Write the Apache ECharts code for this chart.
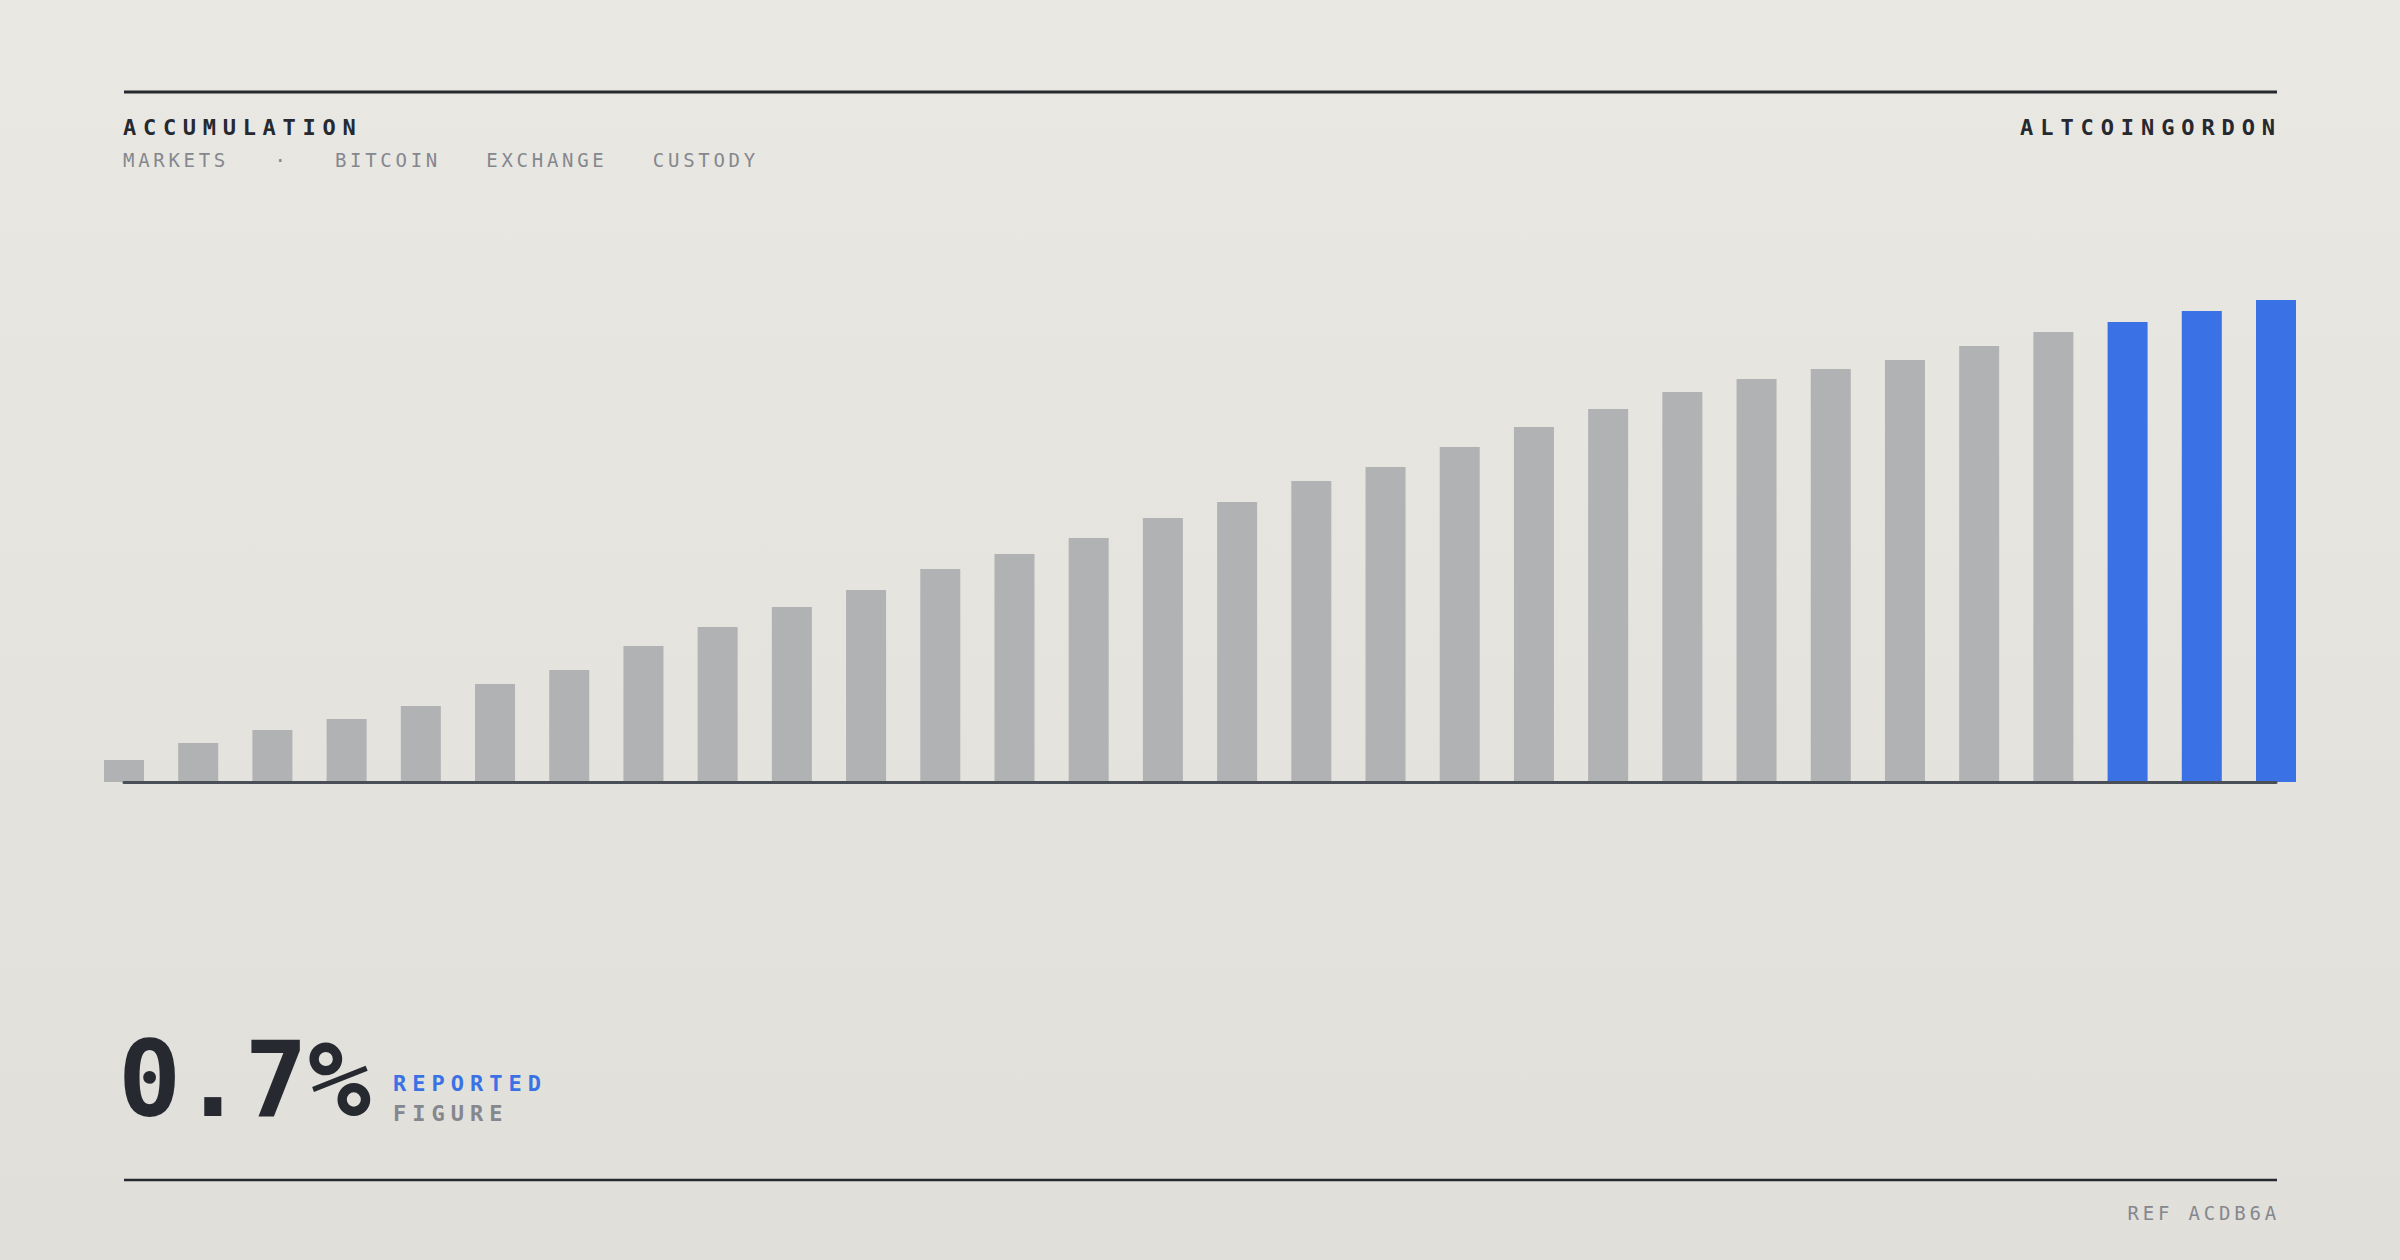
<!DOCTYPE html>
<html>
<head>
<meta charset="utf-8">
<script src="https://cdn.jsdelivr.net/npm/echarts@6/dist/echarts.min.js"></script>
<style>
  html, body { margin: 0; padding: 0; background: #e5e3de; }
  #chart { width: 2400px; height: 1260px; }
</style>
</head>
<body>
<div id="chart"></div>
<script>
// ---- data ----
const categories = ['01','02','03','04','05','06','07','08','09','10',
                    '11','12','13','14','15','16','17','18','19','20',
                    '21','22','23','24','25','26','27','28','29','30'];
const values = [4.4, 7.8, 10.4, 12.6, 15.2, 19.6, 22.4, 27.2, 31.0, 35.0,
                38.4, 42.6, 45.6, 48.8, 52.8, 56.0, 60.2, 63.0, 67.0, 71.0,
                74.6, 78.0, 80.6, 82.6, 84.4, 87.2, 90.0, 92.0, 94.2, 96.4];
const highlighted = ['28', '29', '30'];
const yRange = [0, 100];

const titleText = 'ACCUMULATION';
const subtitleText = 'MARKETS   ·   BITCOIN   EXCHANGE   CUSTODY';
const brandText = 'ALTCOINGORDON';
const figureText = '0.7%';
const figureLabel1 = 'REPORTED';
const figureLabel2 = 'FIGURE';
const refText = 'REF ACDB6A';

// ---- style ----
const MONO = '"DejaVu Sans Mono", "Liberation Mono", monospace';
const DARK = '#262930';
const GREY_TXT = '#85878e';
const BAR_GREY = '#b1b2b4';
const BLUE = '#3a71e5';

const spacing = {};
spacing[titleText] = 6.7;
spacing[brandText] = 6.9;
spacing[subtitleText] = 3.7;
spacing[figureLabel1] = 6.0;
spacing[figureLabel2] = 6.0;
spacing[refText] = 3.8;

function txt(x, y, text, font, fill, align) {
  return {
    type: 'text', x: x, y: y, silent: true,
    style: {
      text: text, font: font, fill: fill,
      textAlign: align || 'left', textVerticalAlign: 'middle',
      align: align || 'left', verticalAlign: 'middle'
    }
  };
}

const chart = echarts.init(document.getElementById('chart'), null, { renderer: 'svg', width: 2400, height: 1260 });

chart.setOption({
  animation: false,
  backgroundColor: 'transparent',
  grid: { left: 124, right: 124, top: 282, bottom: 478, containLabel: false },
  xAxis: {
    type: 'category',
    data: categories,
    boundaryGap: false,
    z: 5,
    axisLine: { show: true, lineStyle: { color: '#4a4e57', width: 3 } },
    axisTick: { show: false },
    axisLabel: { show: false },
    splitLine: { show: false }
  },
  yAxis: {
    type: 'value', min: yRange[0], max: yRange[1],
    show: false, splitLine: { show: false }
  },
  series: [{
    type: 'bar',
    data: values.map((v, i) => ({
      value: v,
      itemStyle: { color: highlighted.indexOf(categories[i]) >= 0 ? BLUE : BAR_GREY }
    })),
    barWidth: 40,
    clip: false,
    silent: true
  }],
  graphic: [
    {
      type: 'rect', z: -100, silent: true,
      shape: { x: 0, y: 0, width: 2400, height: 1260 },
      style: {
        fill: { type: 'linear', x: 0, y: 0, x2: 0, y2: 1,
          colorStops: [{ offset: 0, color: '#eae8e2' }, { offset: 1, color: '#e0dfda' }] }
      }
    },
    { type: 'line', silent: true, shape: { x1: 124, y1: 92, x2: 2277, y2: 92 }, style: { stroke: DARK, lineWidth: 3 } },
    { type: 'line', silent: true, shape: { x1: 124, y1: 1180, x2: 2277, y2: 1180 }, style: { stroke: DARK, lineWidth: 2.5 } },
    txt(123, 127, titleText, 'bold 22px ' + MONO, DARK, 'left'),
    txt(2282, 127, brandText, 'bold 22px ' + MONO, DARK, 'right'),
    txt(123, 160, subtitleText, '19px ' + MONO, GREY_TXT, 'left'),
    txt(118, 1080, figureText, 'bold 105px ' + MONO, DARK, 'left'),
    txt(393, 1083, figureLabel1, 'bold 22px ' + MONO, BLUE, 'left'),
    txt(393, 1113, figureLabel2, 'bold 22px ' + MONO, GREY_TXT, 'left'),
    txt(2280, 1213, refText, '19px ' + MONO, GREY_TXT, 'right')
  ]
});

function applySpacing() {
  const nodes = chart.getDom().querySelectorAll('text');
  nodes.forEach(function (el) {
    const t = el.textContent;
    if (spacing[t] !== undefined) {
      el.style.letterSpacing = spacing[t] + 'px';
      el.style.whiteSpace = 'pre';
      el.setAttribute('xml:space', 'preserve');
    }
  });
}
applySpacing();
chart.on('finished', applySpacing);
</script>
</body>
</html>
